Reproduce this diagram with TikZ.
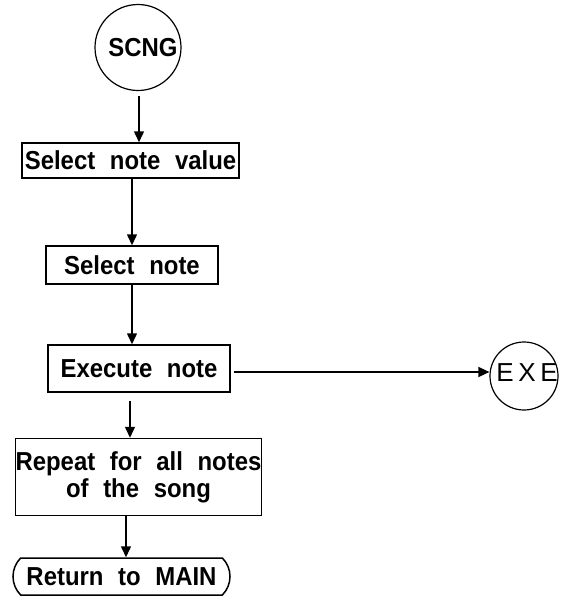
\documentclass[tikz,border=0pt]{standalone}
\usepackage{fontspec}
\setmainfont{Liberation Sans}[WordSpace=2.2,BoldFeatures={FakeStretch=0.92}]
\usetikzlibrary{arrows.meta,shapes.misc}
\begin{document}
\begin{tikzpicture}[x=1pt,y=-1pt,
  every node/.style={font=\fontsize{26}{27}\selectfont\bfseries},
  box/.style={draw,line width=1.5pt,rectangle,inner sep=0pt,align=center},
  circ/.style={draw,line width=1.2pt,circle,inner sep=0pt},
  arr/.style={line width=1.5pt,-{Triangle[length=11pt,width=10pt]}}]
\useasboundingbox (0,0) rectangle (562,598);
\node[circ,minimum size=86pt] (scng) at (138,47.5) {};
\node (scngt) at (143,48) {SCNG};
\node[box,minimum width=217pt,minimum height=35pt] (box1) at (130.5,160.5) {Select note value};
\node[box,minimum width=172pt,minimum height=38pt] (box2) at (132,265) {Select note};
\node[box,minimum width=182pt,minimum height=47pt] (box3) at (139,368.5) {Execute note};
\node[circ,minimum size=68pt] (exe) at (524,376) {};
\node[font=\fontsize{26}{27}\selectfont\addfontfeature{LetterSpace=18}] (exet) at (527,373) {EXE};
\node[box,minimum width=243pt,minimum height=77pt] (box4) at (138.5,477) {Repeat for all notes\\of the song};
\node[draw,line width=1.5pt,rounded rectangle,rounded rectangle arc length=90,inner sep=0pt,
  minimum width=217pt,minimum height=37pt] (ret) at (121.5,576.5) {Return to MAIN};
\draw[arr] ([xshift=1pt,yshift=-5pt]scng.south) -- ([xshift=1pt]scng.south |- box1.north);
\draw[arr] ([xshift=1.5pt]box1.south) -- ([xshift=1.5pt]box1.south |- box2.north);
\draw[arr] (box2.south) -- (box2.south |- box3.north);
\draw[arr] ([xshift=-9pt,yshift=-8pt]box3.south) -- ([xshift=-9pt]box3.south |- box4.north);
\draw[arr] ([xshift=-12.5pt]box4.south) -- ([xshift=-12.5pt]box4.south |- ret.north);
\draw[arr] ([xshift=3pt,yshift=-3.5pt]box3.east) -- ([yshift=-3.5pt]box3.east -| exe.west);
\end{tikzpicture}
\end{document}
